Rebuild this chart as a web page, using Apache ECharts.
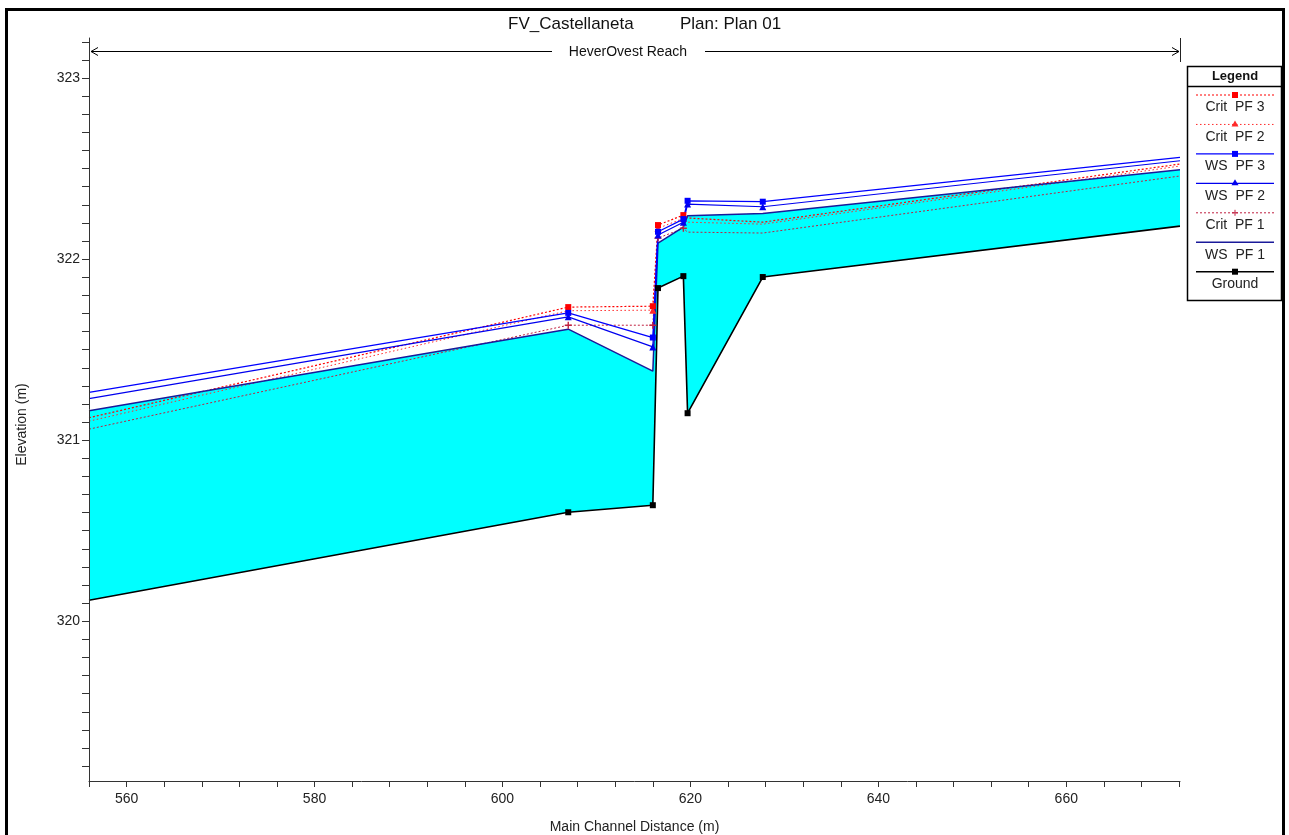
<!DOCTYPE html>
<html><head><meta charset="utf-8">
<script src="https://cdn.jsdelivr.net/npm/echarts@6/dist/echarts.min.js"></script>
<style>html,body{margin:0;padding:0;background:#fff}#c{width:1289px;height:835px}</style>
</head><body><div id="c"></div>
<script>
// ---- data ----
const stations = [556.0, 607.0, 616.0, 616.55, 619.25, 619.7, 627.7, 672.1];
const ground   = [320.116, 320.602, 320.641, 321.840, 321.906, 321.149, 321.901, 322.182];
const wsPF1    = [321.162, 321.613, 321.381, 322.088, 322.177, 322.239, 322.252, 322.494];
const wsPF2    = [321.230, 321.681, 321.515, 322.133, 322.204, 322.304, 322.289, 322.543];
const wsPF3    = [321.264, 321.703, 321.567, 322.151, 322.221, 322.322, 322.317, 322.562];
const critPF1  = [321.061, 321.635, 321.635, 322.116, 322.170, 322.149, 322.144, 322.459];
const critPF2  = [321.105, 321.715, 321.718, 322.170, 322.225, 322.204, 322.193, 322.514];
const critPF3  = [321.124, 321.735, 321.740, 322.188, 322.243, 322.227, 322.204, 322.525];
const xTickLabels = [560, 580, 600, 620, 640, 660];
const yTickLabels = [320, 321, 322, 323];
const titleText = 'FV_Castellaneta';
const planText = 'Plan: Plan 01';
const reachText = 'HeverOvest Reach';
const xName = 'Main Channel Distance (m)';
const yName = 'Elevation (m)';

// ---- styling ----
const FONT = "'Liberation Sans', Arial, sans-serif";
const xTicks = []; for (let v = 556; v <= 672; v += 4) xTicks.push(v);
const yTicks = []; for (let v = 3192; v <= 3232; v++) yTicks.push(v / 10);

const seriesStyles = [
  {name: 'Crit  PF 3', data: critPF3, color: '#ff0000', dash: [2, 2], width: 1.2, mark: 'square', hide: [0, 5, 6, 7]},
  {name: 'Crit  PF 2', data: critPF2, color: '#ff2a2a', dash: [1.5, 2.5], width: 1, mark: 'triangle', hide: [0, 5, 6, 7]},
  {name: 'WS  PF 3', data: wsPF3, color: '#0000ff', dash: null, width: 1.3, mark: 'square', hide: [0, 7]},
  {name: 'WS  PF 2', data: wsPF2, color: '#0000ee', dash: null, width: 1.2, mark: 'triangle', hide: [0, 7]},
  {name: 'Crit  PF 1', data: critPF1, color: '#c02040', dash: [2, 2], width: 1, mark: 'plus', hide: [0, 5, 6, 7]},
  {name: 'WS  PF 1', data: wsPF1, color: '#1a1a9a', dash: null, width: 1.5, mark: null, hide: []},
  {name: 'Ground', data: ground, color: '#000000', dash: null, width: 1.6, mark: 'square', hide: [0, 7]}
];

const symMap = {square: 'rect', triangle: 'triangle', plus: 'path://M2,0H3V5H2Z M0,2H5V3H0Z'};
const pts = (arr, hide) => stations.map((s, i) => (hide && hide.includes(i)) ? {value: [s, arr[i]], symbol: 'none'} : [s, arr[i]]);

const series = [
  {name: 'water', type: 'line', data: pts(wsPF1), symbol: 'none', silent: true,
   lineStyle: {width: 0, opacity: 0}, areaStyle: {color: '#00ffff', opacity: 1, origin: 'start'}, z: 1},
  {name: 'groundfill', type: 'line', data: pts(ground), symbol: 'none', silent: true,
   lineStyle: {width: 0, opacity: 0}, areaStyle: {color: '#ffffff', opacity: 1, origin: 'start'}, z: 1}
];
const drawOrder = ['Crit  PF 1', 'Crit  PF 2', 'Crit  PF 3', 'WS  PF 1', 'WS  PF 2', 'WS  PF 3', 'Ground'];
drawOrder.forEach(n => {
  const s = seriesStyles.find(d => d.name === n);
  series.push({
    name: s.name, type: 'line', data: pts(s.data, s.hide), showAllSymbol: true,
    symbol: s.mark ? symMap[s.mark] : 'none', symbolSize: s.mark === 'square' ? 6 : 7,
    lineStyle: {color: s.color, width: s.width, type: s.dash || 'solid'},
    itemStyle: {color: s.color}, z: 2
  });
});

// ---- frame, reach arrow and legend box (drawn as graphics) ----
const graphics = [];
graphics.push({type: 'rect', shape: {x: 6.5, y: 9.5, width: 1277, height: 840}, style: {fill: 'none', stroke: '#000', lineWidth: 3}, silent: true});
graphics.push({type: 'line', shape: {x1: 91, y1: 51.5, x2: 552, y2: 51.5}, style: {stroke: '#000', lineWidth: 1}});
graphics.push({type: 'line', shape: {x1: 705, y1: 51.5, x2: 1179, y2: 51.5}, style: {stroke: '#000', lineWidth: 1}});
graphics.push({type: 'polyline', shape: {points: [[98, 47.5], [91, 51.5], [98, 55.5]]}, style: {stroke: '#000', lineWidth: 1, fill: 'none'}});
graphics.push({type: 'polyline', shape: {points: [[1172, 47.5], [1179, 51.5], [1172, 55.5]]}, style: {stroke: '#000', lineWidth: 1, fill: 'none'}});
graphics.push({type: 'text', x: 628, y: 52, style: {text: reachText, font: '14px ' + FONT, fill: '#111', align: 'center', verticalAlign: 'middle'}});
graphics.push({type: 'line', shape: {x1: 1180.5, y1: 38, x2: 1180.5, y2: 62}, style: {stroke: '#222', lineWidth: 1}});
graphics.push({type: 'rect', shape: {x: 1187.5, y: 66.5, width: 94, height: 234}, style: {fill: '#fff', stroke: '#000', lineWidth: 1.5}});
graphics.push({type: 'line', shape: {x1: 1187.5, y1: 86.5, x2: 1281.5, y2: 86.5}, style: {stroke: '#000', lineWidth: 1.5}});
graphics.push({type: 'text', x: 1235, y: 76, style: {text: 'Legend', font: 'bold 13px ' + FONT, fill: '#111', align: 'center', verticalAlign: 'middle'}});
seriesStyles.forEach((s, i) => {
  const ly = 95 + i * 29.45, cx = 1235;
  graphics.push({type: 'line', shape: {x1: 1196, y1: ly, x2: 1274, y2: ly}, style: {stroke: s.color, lineWidth: s.width, lineDash: s.dash || null}});
  if (s.mark === 'square') graphics.push({type: 'rect', shape: {x: cx - 3, y: ly - 3, width: 6, height: 6}, style: {fill: s.color}});
  if (s.mark === 'triangle') graphics.push({type: 'polygon', shape: {points: [[cx, ly - 4], [cx - 3.5, ly + 2], [cx + 3.5, ly + 2]]}, style: {fill: s.color}});
  if (s.mark === 'plus') {
    graphics.push({type: 'line', shape: {x1: cx - 3, y1: ly, x2: cx + 3, y2: ly}, style: {stroke: s.color, lineWidth: 1}});
    graphics.push({type: 'line', shape: {x1: cx, y1: ly - 3, x2: cx, y2: ly + 3}, style: {stroke: s.color, lineWidth: 1}});
  }
  graphics.push({type: 'text', x: cx, y: ly + 12.5, style: {text: s.name, font: '14px ' + FONT, fill: '#222', align: 'center', verticalAlign: 'middle'}});
});

const chart = echarts.init(document.getElementById('c'), null, {renderer: 'canvas'});
chart.setOption({
  animation: false,
  backgroundColor: '#fff',
  textStyle: {fontFamily: FONT},
  title: [
    {text: titleText, left: 508, top: 16, padding: 0, textStyle: {fontSize: 17, fontWeight: 'normal', color: '#111', fontFamily: FONT}},
    {text: planText, left: 680, top: 16, padding: 0, textStyle: {fontSize: 17, fontWeight: 'normal', color: '#111', fontFamily: FONT}}
  ],
  grid: {left: 89, right: 109, top: 38, bottom: 54, containLabel: false, outerBoundsMode: 'none'},
  xAxis: {
    type: 'value', min: 556, max: 672.1, z: 10,
    axisLine: {show: true, onZero: false, lineStyle: {color: '#333', width: 1}},
    axisTick: {show: true, customValues: xTicks, length: 6, lineStyle: {color: '#333'}},
    axisLabel: {customValues: xTickLabels, color: '#222', fontSize: 14, margin: 11, fontFamily: FONT},
    splitLine: {show: false},
    name: xName, nameLocation: 'middle', nameGap: 39,
    nameTextStyle: {fontSize: 14, color: '#222', fontFamily: FONT}
  },
  yAxis: {
    type: 'value', min: 319.118, max: 323.221, z: 10,
    axisLine: {show: true, lineStyle: {color: '#333', width: 1}},
    axisTick: {show: true, customValues: yTicks, length: 7, lineStyle: {color: '#333'}},
    axisLabel: {customValues: yTickLabels, color: '#222', fontSize: 14, margin: 9, fontFamily: FONT},
    splitLine: {show: false},
    name: yName, nameLocation: 'middle', nameGap: 60, nameRotate: 90,
    nameTextStyle: {fontSize: 14, color: '#222', fontFamily: FONT, padding: [0, 30, 0, 0]}
  },
  series: series,
  graphic: graphics
});
</script>
</body></html>
